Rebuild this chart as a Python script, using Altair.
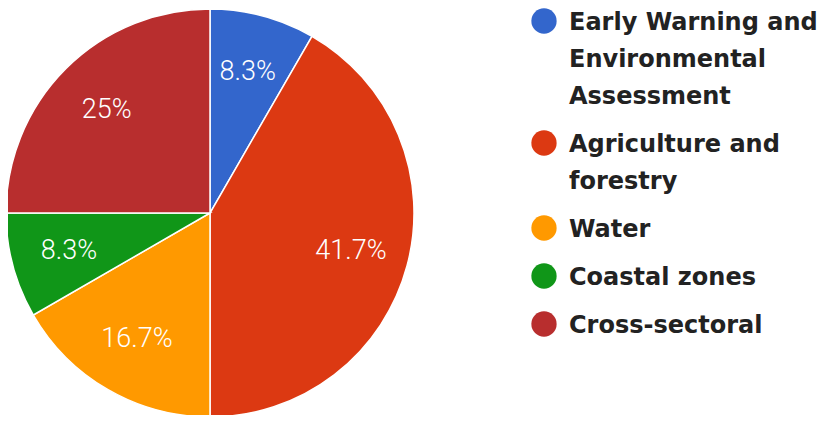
import json
import altair as alt
import pandas as pd

categories = [
    "Early Warning and Environmental Assessment",
    "Agriculture and forestry",
    "Water",
    "Coastal zones",
    "Cross-sectoral",
]
counts = [1, 5, 2, 1, 3]
pct_labels = ["8.3%", "41.7%", "16.7%", "8.3%", "25%"]
colors = ["#3366cc", "#dc3912", "#ff9900", "#109618", "#b82e2e"]
legend_lines = [
    ["Early Warning and", "Environmental", "Assessment"],
    ["Agriculture and", "forestry"],
    ["Water"],
    ["Coastal zones"],
    ["Cross-sectoral"],
]

df = pd.DataFrame({
    "category": categories,
    "count": counts,
    "label": pct_labels,
    "order": list(range(len(categories))),
})

label_expr = " : ".join(
    f"datum.label == {json.dumps(c)} ? {json.dumps(lines)}"
    for c, lines in zip(categories, legend_lines)
) + " : datum.label"

CX, CY, R = 202, 205, 204

base = alt.Chart(df).encode(
    theta=alt.Theta("count:Q", stack=True),
    order=alt.Order("order:Q"),
)

arcs = base.mark_arc(outerRadius=R, stroke="white", strokeWidth=1.5).encode(
    x=alt.value(CX),
    y=alt.value(CY),
    color=alt.Color(
        "category:N",
        scale=alt.Scale(domain=categories, range=colors),
        legend=alt.Legend(
            orient="none",
            legendX=523,
            legendY=0,
            title=None,
            padding=0,
            symbolType="circle",
            symbolSize=640,
            symbolStrokeWidth=0,
            symbolOpacity=1,
            labelFont="DejaVu Sans",
            labelFontWeight="bold",
            labelFontSize=24,
            labelColor="#222222",
            labelBaseline="top",
            labelOffset=12,
            labelLimit=400,
            rowPadding=21,
            labelExpr=label_expr,
        ),
    ),
)

texts = base.mark_text(
    radius=146, font="Roboto", fontSize=27, fontWeight=300, color="white"
).encode(
    x=alt.value(CX),
    y=alt.value(CY),
    text="label:N",
)

chart = (
    alt.layer(arcs, texts)
    .properties(width=811, height=407, autosize=alt.AutoSizeParams(type="none"), padding=0)
    .configure(
        view={"stroke": None},
        style={"guide-label": {"dy": -10, "lineHeight": 37}},
    )
)

chart.save("out.html", embed_options={"renderer": "svg", "actions": False})
